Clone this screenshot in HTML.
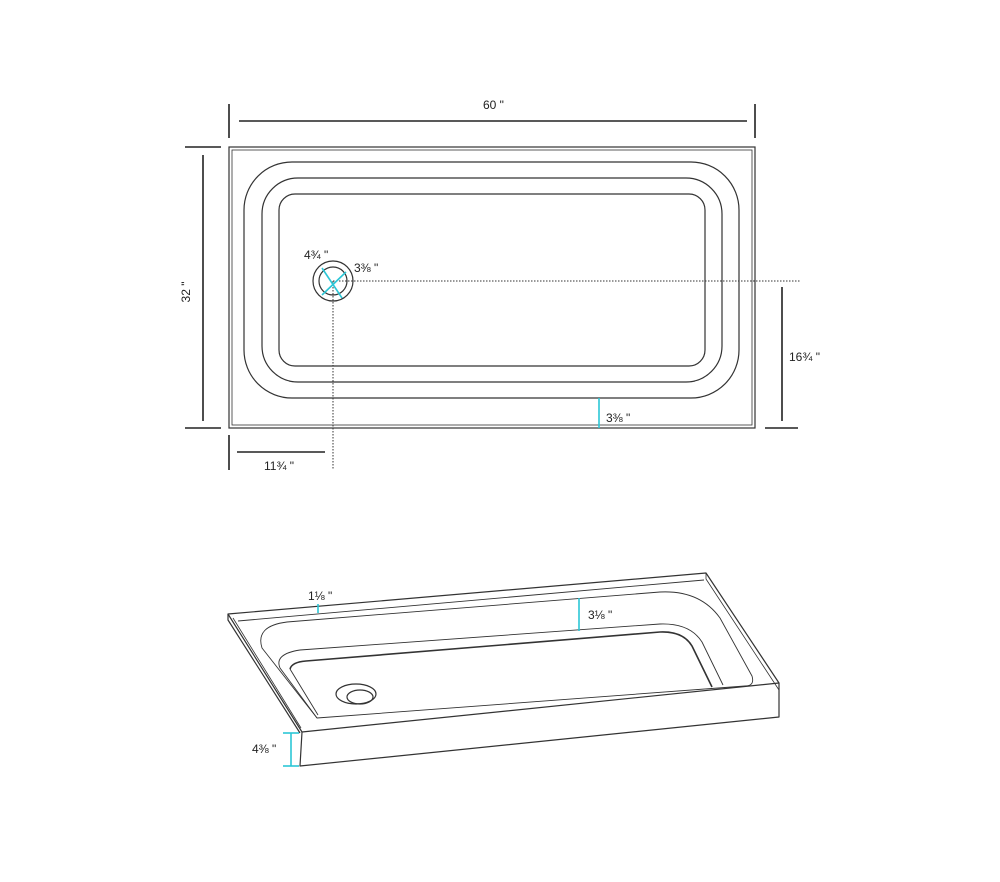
<!DOCTYPE html>
<html><head><meta charset="utf-8"><style>
html,body{margin:0;padding:0;background:#fff;}
svg text{font-family:"Liberation Sans","DejaVu Sans",sans-serif;font-size:12px;fill:#222;}
</style></head><body>
<svg width="1000" height="877" viewBox="0 0 1000 877" xmlns="http://www.w3.org/2000/svg">
<g fill="none" stroke="#333" stroke-width="1.2">
<rect x="229" y="147" width="526" height="281"/>
<rect x="232" y="150" width="520" height="275" stroke-width="0.8"/>
<rect x="244" y="162" width="495" height="236" rx="48" ry="48"/>
<rect x="262" y="178" width="460" height="204" rx="36" ry="36"/>
<rect x="279" y="194" width="426" height="172" rx="16" ry="16"/>
<circle cx="333" cy="281" r="20"/>
<circle cx="333" cy="281" r="14"/>
</g>
<g stroke="#333" stroke-width="1" stroke-dasharray="1.5,1.5" fill="none">
<line x1="333" y1="281" x2="800" y2="281"/>
<line x1="333" y1="281" x2="333" y2="470"/>
</g>
<g stroke="#2cc6d6" stroke-width="1.6">
<line x1="322" y1="295" x2="346" y2="272"/>
<line x1="322" y1="268" x2="342" y2="298"/>
<line x1="599" y1="398" x2="599" y2="428"/>
</g>
<g stroke="#222" stroke-width="1.6">
<line x1="229" y1="104" x2="229" y2="138"/>
<line x1="755" y1="104" x2="755" y2="138"/>
<line x1="239" y1="121" x2="747" y2="121"/>
<line x1="185" y1="147" x2="221" y2="147"/>
<line x1="185" y1="428" x2="221" y2="428"/>
<line x1="203" y1="155" x2="203" y2="421"/>
<line x1="782" y1="287" x2="782" y2="421"/>
<line x1="765" y1="428" x2="798" y2="428"/>
<line x1="229" y1="435" x2="229" y2="470"/>
<line x1="237" y1="452" x2="325" y2="452"/>
</g>
<text x="483" y="109">60 "</text>
<text transform="translate(190,292) rotate(-90)" text-anchor="middle">32 "</text>
<text x="304" y="259">4¾ "</text>
<text x="354" y="272">3⅜ "</text>
<text x="606" y="422">3⅜ "</text>
<text x="789" y="361">16¾ "</text>
<text x="264" y="470">11¾ "</text>
<!-- perspective view -->
<g fill="none" stroke="#333" stroke-width="1.2" stroke-linejoin="round">
<path d="M228,614 L706,573 L779,683 L302,732 Z"/>
<path d="M228,614 L228,620 L300,733"/>
<path d="M233,618 L301,728" stroke-width="0.8"/>
<path d="M302,732 L300,766 L779,717 L779,683"/>
<path d="M706,573 L706,579 L779,690" stroke-width="0.8"/>
<path d="M238,621 L704,580" stroke-width="0.9"/>
<path d="M287,622 L660,592 Q700,590 720,618 L752,676 Q755,686 745,686 L317,718 L262,648 Q255,626 287,622 Z" stroke-width="0.9"/>
<path d="M300,650 L660,624 Q690,623 702,642 L723,685" stroke-width="0.9"/>
<path d="M300,650 Q274,654 280,668 L317,718" stroke-width="0.9"/>
<path d="M290,669 Q292,662 306,661 L660,632 Q683,631 692,646 L712,687" stroke-width="1.6"/>
<path d="M290,669 L318,715" stroke-width="0.9"/>
<ellipse cx="356" cy="694" rx="20" ry="10"/>
<ellipse cx="360" cy="697" rx="13" ry="7"/>
</g>
<g stroke="#2cc6d6" stroke-width="1.6">
<line x1="318" y1="604" x2="318" y2="613"/>
<line x1="579" y1="598" x2="579" y2="631"/>
<line x1="291" y1="733" x2="291" y2="766"/>
<line x1="283" y1="733" x2="299" y2="733"/>
<line x1="283" y1="766" x2="299" y2="766"/>
</g>
<text x="308" y="600">1⅛ "</text>
<text x="588" y="619">3⅛ "</text>
<text x="252" y="753">4⅜ "</text>
</svg>
</body></html>
